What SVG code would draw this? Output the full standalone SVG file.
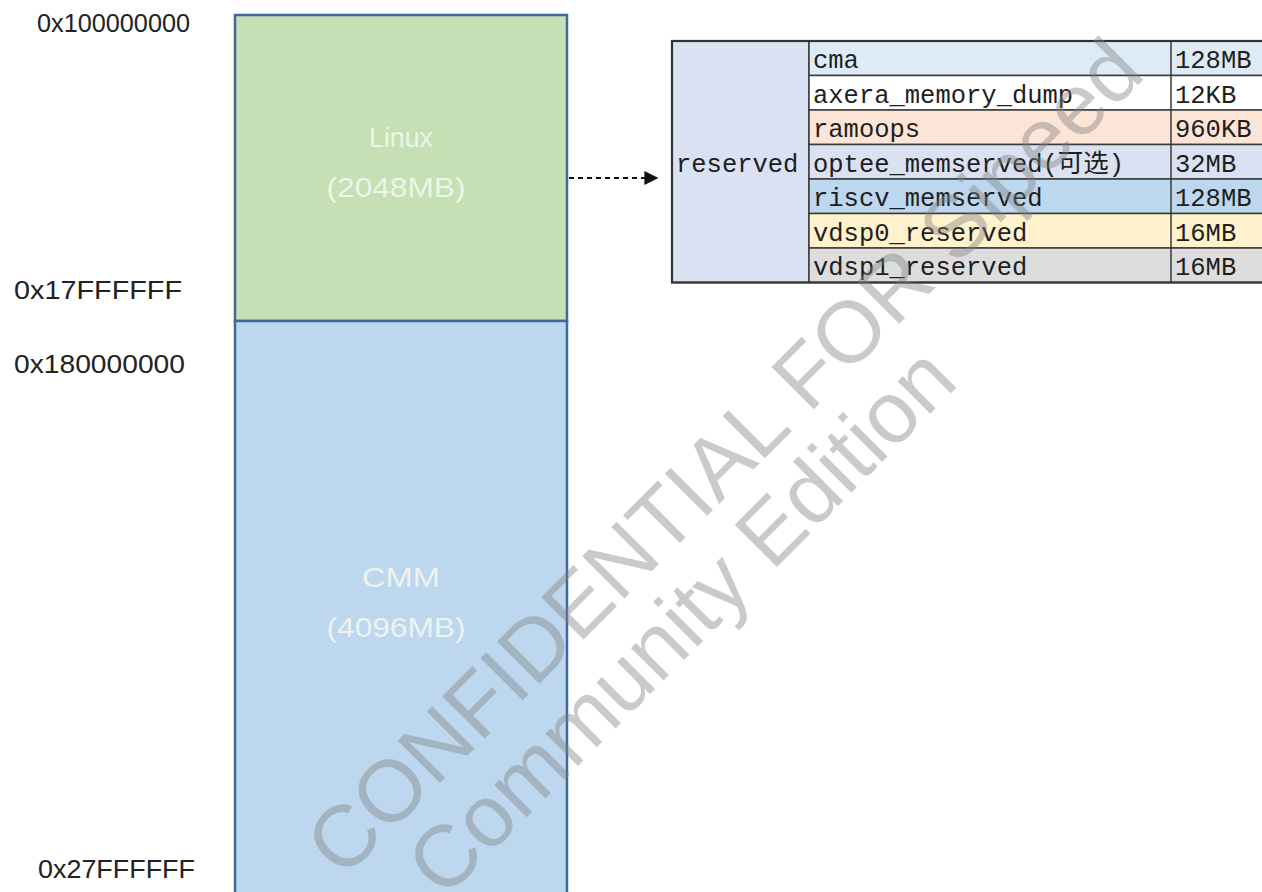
<svg xmlns="http://www.w3.org/2000/svg" width="1262" height="892" viewBox="0 0 1262 892">
<defs>
<style>
.addr{font-family:"Liberation Sans",Arial,sans-serif;font-size:25px;fill:#222;}
.blk{stroke:#41689a;stroke-width:2.5;}
.blabel{font-family:"Liberation Sans",Arial,sans-serif;font-size:28px;fill:#f3f7f0;fill-opacity:0.9;text-anchor:middle;}
.cell{stroke:#3a3a3a;stroke-width:1.5;}
.mono{font-family:"Liberation Mono","Courier New","Noto Sans CJK SC",monospace;font-size:25.5px;fill:#1e1e1e;}
.wm{font-family:"Liberation Sans",Arial,sans-serif;font-size:87px;fill:#808080;fill-opacity:0.42;text-anchor:middle;}
</style>
<marker id="ah" viewBox="0 0 10 10" refX="9" refY="5" markerWidth="14" markerHeight="14" markerUnits="userSpaceOnUse" orient="auto">
<path d="M0,0 L10,5 L0,10 z" fill="#111"/>
</marker>
</defs>
<rect width="1262" height="892" fill="#fff"/>

<g id="addresses">
<text class="addr" x="37" y="32" textLength="153" lengthAdjust="spacingAndGlyphs">0x100000000</text>
<text class="addr" x="14" y="299" textLength="168" lengthAdjust="spacingAndGlyphs">0x17FFFFFF</text>
<text class="addr" x="14" y="373" textLength="171" lengthAdjust="spacingAndGlyphs">0x180000000</text>
<text class="addr" x="38" y="878" textLength="157" lengthAdjust="spacingAndGlyphs">0x27FFFFFF</text>
</g>

<g id="linux">
<rect class="blk" x="235" y="15" width="332" height="306" fill="#c5e0b4"/>
<text class="blabel" x="401" y="147" textLength="64" lengthAdjust="spacingAndGlyphs">Linux</text>
<text class="blabel" x="396" y="197" textLength="139" lengthAdjust="spacingAndGlyphs">(2048MB)</text>
</g>

<g id="cmm">
<rect class="blk" x="235" y="321" width="332" height="580" fill="#bdd7ee"/>
<text class="blabel" x="401" y="587" textLength="78" lengthAdjust="spacingAndGlyphs">CMM</text>
<text class="blabel" x="396" y="637" textLength="139" lengthAdjust="spacingAndGlyphs">(4096MB)</text>
</g>

<g id="connectors">
<line x1="569" y1="178" x2="657" y2="178" stroke="#111" stroke-width="1.8" stroke-dasharray="5,4" marker-end="url(#ah)"/>
</g>

<g id="reserved-table">
<rect class="cell" x="672" y="41" width="137" height="241.5" fill="#d9e1f2"/>
<rect class="cell" x="809" y="41" width="460" height="34.5" fill="#ddebf7"/>
<rect class="cell" x="809" y="75.5" width="460" height="34.5" fill="#ffffff"/>
<rect class="cell" x="809" y="110" width="460" height="34.5" fill="#fce4d6"/>
<rect class="cell" x="809" y="144.5" width="460" height="34.5" fill="#d9e1f2"/>
<rect class="cell" x="809" y="179" width="460" height="34.5" fill="#bdd7ee"/>
<rect class="cell" x="809" y="213.5" width="460" height="34.5" fill="#fff2cc"/>
<rect class="cell" x="809" y="248" width="460" height="34.5" fill="#dddddd"/>
<line class="cell" x1="1171" y1="41" x2="1171" y2="282.5"/>
<rect x="672" y="41" width="600" height="241.5" fill="none" stroke="#333" stroke-width="2.2"/>
<text class="mono" x="676" y="172">reserved</text>
<text class="mono" x="813" y="68">cma</text>
<text class="mono" x="813" y="102.5">axera_memory_dump</text>
<text class="mono" x="813" y="137">ramoops</text>
<text class="mono" x="813" y="171.5">optee_memserved(可选)</text>
<text class="mono" x="813" y="206">riscv_memserved</text>
<text class="mono" x="813" y="240.5">vdsp0_reserved</text>
<text class="mono" x="813" y="275">vdsp1_reserved</text>
<text class="mono" x="1175" y="68">128MB</text>
<text class="mono" x="1175" y="102.5">12KB</text>
<text class="mono" x="1175" y="137">960KB</text>
<text class="mono" x="1175" y="171.5">32MB</text>
<text class="mono" x="1175" y="206">128MB</text>
<text class="mono" x="1175" y="240.5">16MB</text>
<text class="mono" x="1175" y="275">16MB</text>
</g>

<g id="watermark">
<text class="wm" transform="translate(745,478) rotate(-45)">CONFIDENTIAL FOR Sipeed</text>
<text class="wm" transform="translate(702,642) rotate(-45)">Community Edition</text>
</g>
</svg>
